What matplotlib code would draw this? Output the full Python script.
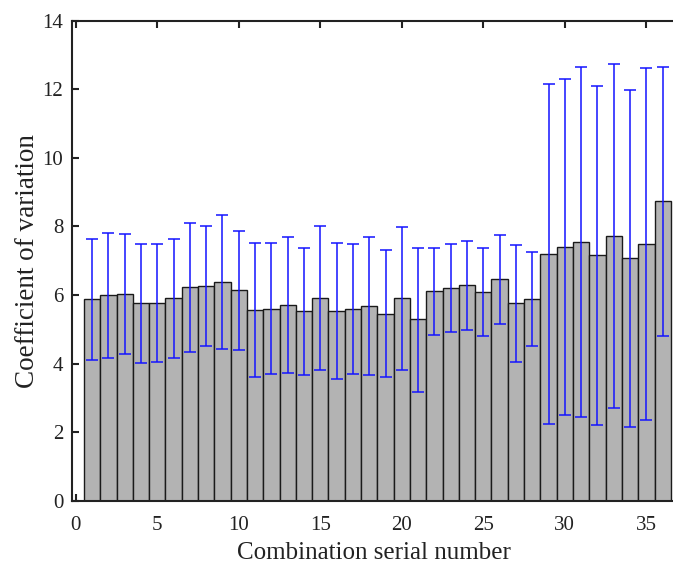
import matplotlib
matplotlib.use("Agg")
import matplotlib.pyplot as plt
import numpy as np

combo = list(range(1, 37))
cv_mean = [5.87, 5.99, 6.04, 5.76, 5.77, 5.90, 6.22, 6.27, 6.39, 6.15,
           5.57, 5.60, 5.72, 5.52, 5.92, 5.54, 5.60, 5.68, 5.46, 5.90,
           5.29, 6.11, 6.19, 6.28, 6.08, 6.46, 5.77, 5.89, 7.21, 7.41,
           7.54, 7.16, 7.73, 7.09, 7.50, 8.73]
cv_upper = [7.63, 7.82, 7.79, 7.49, 7.48, 7.64, 8.10, 8.00, 8.34, 7.88,
            7.51, 7.51, 7.69, 7.37, 8.02, 7.51, 7.49, 7.69, 7.32, 7.99,
            7.38, 7.38, 7.49, 7.58, 7.38, 7.75, 7.47, 7.26, 12.16, 12.30,
            12.64, 12.10, 12.75, 11.99, 12.63, 12.65]
cv_lower = [4.11, 4.15, 4.27, 4.02, 4.06, 4.16, 4.33, 4.51, 4.43, 4.40,
            3.62, 3.69, 3.73, 3.67, 3.81, 3.55, 3.71, 3.66, 3.60, 3.81,
            3.17, 4.84, 4.91, 4.98, 4.80, 5.15, 4.06, 4.50, 2.25, 2.51,
            2.45, 2.21, 2.70, 2.16, 2.36, 4.80]
xticks = [0, 5, 10, 15, 20, 25, 30, 35]
yticks = [0, 2, 4, 6, 8, 10, 12, 14]

plt.rcParams['font.family'] = ['Liberation Serif', 'DejaVu Serif']
fig = plt.figure(figsize=(6.73, 5.64), dpi=100)
ax = fig.add_axes([0.1065, 0.1122, 0.898, 0.8511])

x = np.array(combo)
m = np.array(cv_mean)
err = np.vstack([m - np.array(cv_lower), np.array(cv_upper) - m])
ax.bar(x, m, width=1.0, color='#b3b3b3', edgecolor='#1a1a1a', linewidth=1.0, zorder=2)
ax.errorbar(x, m, yerr=err, fmt='none', ecolor='#1414ff', elinewidth=1.1,
            capsize=4.3, capthick=1.1, zorder=3)

ax.set_xlim(-0.25, 36.82)
ax.set_ylim(0, 14)
ax.set_xticks(xticks)
ax.set_yticks(yticks)
ax.tick_params(direction='in', top=True, right=False, labelsize=15,
               length=5, width=1.5, colors='#222222', labelcolor='#222222')
ax.tick_params(axis='x', pad=11)
ax.tick_params(axis='y', pad=6)
for s in ax.spines.values():
    s.set_linewidth(1.5)
    s.set_color('#222222')
ax.set_xlabel('Combination serial number', fontsize=18, color='#222222', labelpad=5)
ax.set_ylabel('Coefficient of variation', fontsize=19.5, color='#222222', labelpad=2)

fig.savefig('out.png', dpi=100)
